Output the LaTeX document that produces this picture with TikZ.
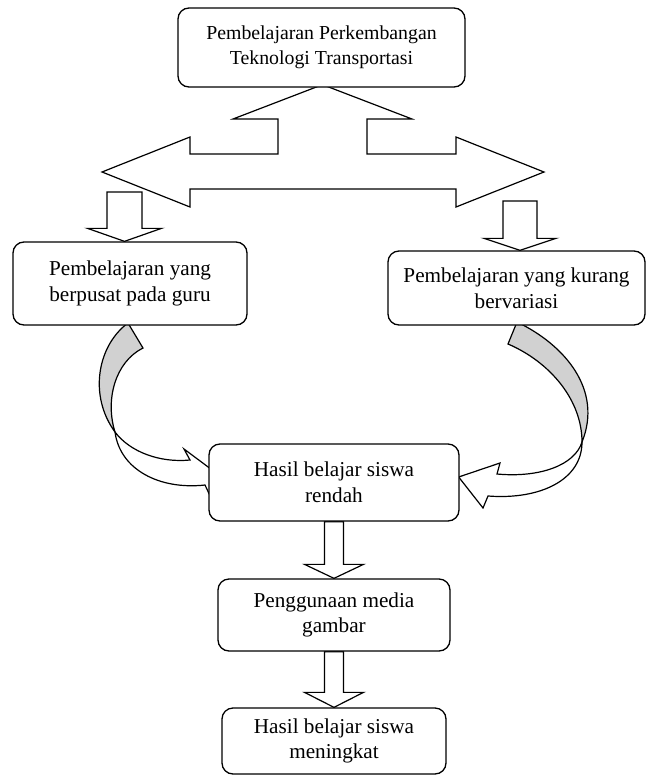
\documentclass[tikz,border=0pt]{standalone}
\usepackage{fontspec}
\setmainfont{Liberation Serif}
\usetikzlibrary{positioning,calc,backgrounds}

\begin{document}
\begin{tikzpicture}[
    x=0.5pt, y=-0.5pt,
    box/.style={draw, rounded corners=5.5pt, fill=white, align=center,
                line width=0.65pt, inner sep=0pt,
                font=\fontsize{10.6}{12.8}\selectfont},
    fat/.style={draw, fill=white, line width=0.6pt, line join=miter},
    back/.style={draw, fill=black!18, line width=0.6pt}
  ]
  \useasboundingbox (0,0) rectangle (647,776);

  % --- Boxes ---
  \node[box, minimum width=143.5pt, minimum height=39.5pt,
        font=\fontsize{9.9}{12.4}\selectfont] (topik) at (321.5,47.5)
    {Pembelajaran Perkembangan\\Teknologi Transportasi};
  \node[box, minimum width=117pt, minimum height=41.5pt] (guru) at (130,283.5)
    {Pembelajaran yang\\berpusat pada guru};
  \node[box, minimum width=128.5pt, minimum height=37pt] (kurang) at (516.5,288)
    {Pembelajaran yang kurang\\bervariasi};
  \node[box, minimum width=125pt, minimum height=38.5pt] (rendah) at (334,482.5)
    {Hasil belajar siswa\\rendah};
  \node[box, minimum width=116pt, minimum height=36pt] (media) at (334,615)
    {Penggunaan media\\gambar};
  \node[box, minimum width=112pt, minimum height=33pt] (naik) at (334,741)
    {Hasil belajar siswa\\meningkat};

  \coordinate (lsrc) at (124.5,192);
  \coordinate (rsrc) at (520,201);
  \coordinate (ltip) at (lsrc |- guru.north);
  \coordinate (rtip) at (rsrc |- kurang.north);
  \coordinate (lx) at (115,432);
  \coordinate (rx) at (582,442);

  \begin{scope}[on background layer]
    % --- Double arrow under the title ---
    \draw[fat] ($(topik.south)+(1,-3)$) -- (412,119) -- (367,119) -- (367,154) -- (456,154)
      -- (456,137) -- (544,172) -- (456,207) -- (456,189) -- (190,189)
      -- (190,207) -- (102,172) -- (190,137) -- (190,154) -- (278,154)
      -- (278,119) -- (233,119) -- cycle;

    % --- Small down arrows ---
    \draw[fat] ($(lsrc)+(-17.5,0)$) -- ($(lsrc)+(17.5,0)$)
      |- ($(ltip)+(37,-13)$) -- (ltip) -- ($(ltip)+(-37,-13)$)
      -- ($(ltip)+(-17.5,-13)$) -- cycle;
    \draw[fat] ($(rsrc)+(-17,0)$) -- ($(rsrc)+(17,0)$)
      |- ($(rtip)+(36,-12)$) -- (rtip) -- ($(rtip)+(-36,-12)$)
      -- ($(rtip)+(-17,-12)$) -- cycle;

    % --- Curved arrows ---
    \draw[back] (128,323) .. controls (98,345) and (88,395) .. (lx)
      .. controls (105,400) and (115,362) .. (143,348) -- cycle;
    \draw[fat] (lx) .. controls (130,452) and (160,463) .. (190,460)
      -- (184,449) -- (235,487) -- (212,500) -- (205,485)
      .. controls (160,490) and (120,470) .. (lx) -- cycle;
    \draw[back] (517,322) .. controls (565,345) and (603,390) .. (rx)
      .. controls (582,400) and (550,362) .. (508,344) -- cycle;
    \draw[fat] (rx) .. controls (575,465) and (540,478) .. (497,474)
      -- (500,463) -- ($(rendah.east)+(-1,-5.5)$) -- (483,508) -- (488,496)
      .. controls (540,500) and (582,480) .. (rx) -- cycle;

    % --- Down arrows ---
    \draw[fat] ($(rendah.south)+(-9.5,0)$) -- ($(rendah.south)+(9.5,0)$)
      |- ($(media.north)+(29.5,-14)$) -- (media.north) -- ($(media.north)+(-29.5,-14)$)
      -- ($(media.north)+(-9.5,-14)$) -- cycle;
    \draw[fat] ($(media.south)+(-9.5,0)$) -- ($(media.south)+(9.5,0)$)
      |- ($(naik.north)+(29.5,-15)$) -- (naik.north) -- ($(naik.north)+(-29.5,-15)$)
      -- ($(naik.north)+(-9.5,-15)$) -- cycle;
  \end{scope}
\end{tikzpicture}
\end{document}
